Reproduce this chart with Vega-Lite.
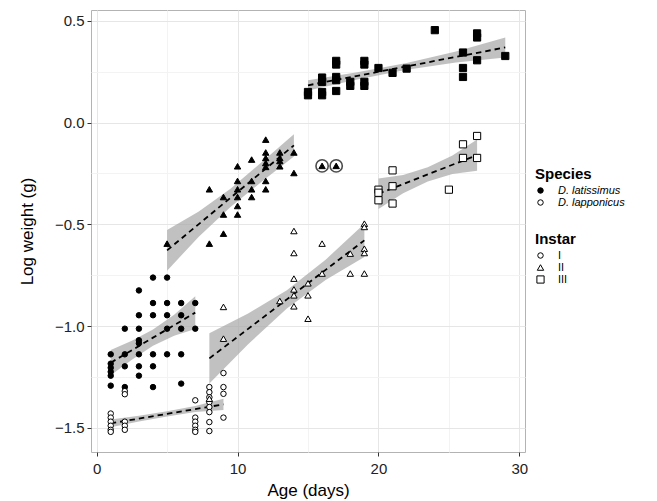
{
  "$schema": "https://vega.github.io/schema/vega-lite/v6.json",
  "width": 434,
  "height": 442,
  "autosize": {"type": "none"},
  "padding": {"left": 91, "top": 10, "right": 132, "bottom": 49},
  "config": {
    "font": "Liberation Sans",
    "view": {"stroke": "#b3b3b3", "strokeWidth": 1},
    "axis": {
      "domain": false,
      "tickColor": "#333333",
      "tickSize": 4,
      "labelColor": "#222222",
      "labelFontSize": 15,
      "titleFontSize": 17,
      "titleFontWeight": "normal",
      "titleColor": "#000000",
      "gridWidth": 1
    },
    "legend": {
      "padding": 0,
      "titleFontSize": 15,
      "titleFontWeight": "bold",
      "titleColor": "#000000",
      "titlePadding": 3,
      "labelFontSize": 11,
      "labelColor": "#000000",
      "labelOffset": 12,
      "rowPadding": 0,
      "symbolStrokeColor": "#000000",
      "symbolStrokeWidth": 1
    }
  },
  "datasets": {
    "pts": [
      {"age": 1, "lw": -1.139, "species": "D. latissimus", "instar": "I"},
      {"age": 1, "lw": -1.185, "species": "D. latissimus", "instar": "I"},
      {"age": 1, "lw": -1.205, "species": "D. latissimus", "instar": "I"},
      {"age": 1, "lw": -1.225, "species": "D. latissimus", "instar": "I"},
      {"age": 1, "lw": -1.244, "species": "D. latissimus", "instar": "I"},
      {"age": 1, "lw": -1.293, "species": "D. latissimus", "instar": "I"},
      {"age": 2, "lw": -1.013, "species": "D. latissimus", "instar": "I"},
      {"age": 2, "lw": -1.139, "species": "D. latissimus", "instar": "I"},
      {"age": 2, "lw": -1.198, "species": "D. latissimus", "instar": "I"},
      {"age": 2, "lw": -1.3, "species": "D. latissimus", "instar": "I"},
      {"age": 3, "lw": -0.825, "species": "D. latissimus", "instar": "I"},
      {"age": 3, "lw": -0.947, "species": "D. latissimus", "instar": "I"},
      {"age": 3, "lw": -1.013, "species": "D. latissimus", "instar": "I"},
      {"age": 3, "lw": -1.07, "species": "D. latissimus", "instar": "I"},
      {"age": 3, "lw": -1.085, "species": "D. latissimus", "instar": "I"},
      {"age": 3, "lw": -1.139, "species": "D. latissimus", "instar": "I"},
      {"age": 3, "lw": -1.198, "species": "D. latissimus", "instar": "I"},
      {"age": 3, "lw": -1.244, "species": "D. latissimus", "instar": "I"},
      {"age": 4, "lw": -0.762, "species": "D. latissimus", "instar": "I"},
      {"age": 4, "lw": -0.887, "species": "D. latissimus", "instar": "I"},
      {"age": 4, "lw": -0.947, "species": "D. latissimus", "instar": "I"},
      {"age": 4, "lw": -1.139, "species": "D. latissimus", "instar": "I"},
      {"age": 4, "lw": -1.198, "species": "D. latissimus", "instar": "I"},
      {"age": 4, "lw": -1.3, "species": "D. latissimus", "instar": "I"},
      {"age": 5, "lw": -0.762, "species": "D. latissimus", "instar": "I"},
      {"age": 5, "lw": -0.887, "species": "D. latissimus", "instar": "I"},
      {"age": 5, "lw": -0.947, "species": "D. latissimus", "instar": "I"},
      {"age": 5, "lw": -1.013, "species": "D. latissimus", "instar": "I"},
      {"age": 5, "lw": -1.139, "species": "D. latissimus", "instar": "I"},
      {"age": 6, "lw": -0.887, "species": "D. latissimus", "instar": "I"},
      {"age": 6, "lw": -0.947, "species": "D. latissimus", "instar": "I"},
      {"age": 6, "lw": -1.013, "species": "D. latissimus", "instar": "I"},
      {"age": 6, "lw": -1.139, "species": "D. latissimus", "instar": "I"},
      {"age": 6, "lw": -1.283, "species": "D. latissimus", "instar": "I"},
      {"age": 7, "lw": -0.887, "species": "D. latissimus", "instar": "I"},
      {"age": 7, "lw": -1.013, "species": "D. latissimus", "instar": "I"},
      {"age": 5, "lw": -0.595, "species": "D. latissimus", "instar": "II"},
      {"age": 8, "lw": -0.328, "species": "D. latissimus", "instar": "II"},
      {"age": 8, "lw": -0.595, "species": "D. latissimus", "instar": "II"},
      {"age": 9, "lw": -0.366, "species": "D. latissimus", "instar": "II"},
      {"age": 9, "lw": -0.452, "species": "D. latissimus", "instar": "II"},
      {"age": 9, "lw": -0.546, "species": "D. latissimus", "instar": "II"},
      {"age": 10, "lw": -0.215, "species": "D. latissimus", "instar": "II"},
      {"age": 10, "lw": -0.287, "species": "D. latissimus", "instar": "II"},
      {"age": 10, "lw": -0.328, "species": "D. latissimus", "instar": "II"},
      {"age": 10, "lw": -0.366, "species": "D. latissimus", "instar": "II"},
      {"age": 10, "lw": -0.41, "species": "D. latissimus", "instar": "II"},
      {"age": 10, "lw": -0.452, "species": "D. latissimus", "instar": "II"},
      {"age": 11, "lw": -0.182, "species": "D. latissimus", "instar": "II"},
      {"age": 11, "lw": -0.287, "species": "D. latissimus", "instar": "II"},
      {"age": 11, "lw": -0.328, "species": "D. latissimus", "instar": "II"},
      {"age": 11, "lw": -0.366, "species": "D. latissimus", "instar": "II"},
      {"age": 12, "lw": -0.084, "species": "D. latissimus", "instar": "II"},
      {"age": 12, "lw": -0.147, "species": "D. latissimus", "instar": "II"},
      {"age": 12, "lw": -0.174, "species": "D. latissimus", "instar": "II"},
      {"age": 12, "lw": -0.199, "species": "D. latissimus", "instar": "II"},
      {"age": 12, "lw": -0.218, "species": "D. latissimus", "instar": "II"},
      {"age": 12, "lw": -0.287, "species": "D. latissimus", "instar": "II"},
      {"age": 12, "lw": -0.328, "species": "D. latissimus", "instar": "II"},
      {"age": 13, "lw": -0.147, "species": "D. latissimus", "instar": "II"},
      {"age": 13, "lw": -0.174, "species": "D. latissimus", "instar": "II"},
      {"age": 13, "lw": -0.189, "species": "D. latissimus", "instar": "II"},
      {"age": 13, "lw": -0.215, "species": "D. latissimus", "instar": "II"},
      {"age": 14, "lw": -0.147, "species": "D. latissimus", "instar": "II"},
      {"age": 14, "lw": -0.248, "species": "D. latissimus", "instar": "II"},
      {"age": 16, "lw": -0.213, "species": "D. latissimus", "instar": "II", "ring": 1},
      {"age": 17, "lw": -0.213, "species": "D. latissimus", "instar": "II", "ring": 1},
      {"age": 15, "lw": 0.15, "species": "D. latissimus", "instar": "III"},
      {"age": 15, "lw": 0.134, "species": "D. latissimus", "instar": "III"},
      {"age": 16, "lw": 0.221, "species": "D. latissimus", "instar": "III"},
      {"age": 16, "lw": 0.2, "species": "D. latissimus", "instar": "III"},
      {"age": 16, "lw": 0.15, "species": "D. latissimus", "instar": "III"},
      {"age": 16, "lw": 0.134, "species": "D. latissimus", "instar": "III"},
      {"age": 17, "lw": 0.303, "species": "D. latissimus", "instar": "III"},
      {"age": 17, "lw": 0.285, "species": "D. latissimus", "instar": "III"},
      {"age": 17, "lw": 0.224, "species": "D. latissimus", "instar": "III"},
      {"age": 17, "lw": 0.208, "species": "D. latissimus", "instar": "III"},
      {"age": 17, "lw": 0.155, "species": "D. latissimus", "instar": "III"},
      {"age": 18, "lw": 0.2, "species": "D. latissimus", "instar": "III"},
      {"age": 18, "lw": 0.18, "species": "D. latissimus", "instar": "III"},
      {"age": 19, "lw": 0.303, "species": "D. latissimus", "instar": "III"},
      {"age": 19, "lw": 0.285, "species": "D. latissimus", "instar": "III"},
      {"age": 19, "lw": 0.2, "species": "D. latissimus", "instar": "III"},
      {"age": 19, "lw": 0.18, "species": "D. latissimus", "instar": "III"},
      {"age": 20, "lw": 0.268, "species": "D. latissimus", "instar": "III"},
      {"age": 21, "lw": 0.244, "species": "D. latissimus", "instar": "III"},
      {"age": 22, "lw": 0.265, "species": "D. latissimus", "instar": "III"},
      {"age": 24, "lw": 0.454, "species": "D. latissimus", "instar": "III"},
      {"age": 26, "lw": 0.344, "species": "D. latissimus", "instar": "III"},
      {"age": 26, "lw": 0.268, "species": "D. latissimus", "instar": "III"},
      {"age": 26, "lw": 0.224, "species": "D. latissimus", "instar": "III"},
      {"age": 27, "lw": 0.438, "species": "D. latissimus", "instar": "III"},
      {"age": 27, "lw": 0.418, "species": "D. latissimus", "instar": "III"},
      {"age": 27, "lw": 0.306, "species": "D. latissimus", "instar": "III"},
      {"age": 29, "lw": 0.327, "species": "D. latissimus", "instar": "III"},
      {"age": 1, "lw": -1.43, "species": "D. lapponicus", "instar": "I"},
      {"age": 1, "lw": -1.45, "species": "D. lapponicus", "instar": "I"},
      {"age": 1, "lw": -1.47, "species": "D. lapponicus", "instar": "I"},
      {"age": 1, "lw": -1.49, "species": "D. lapponicus", "instar": "I"},
      {"age": 1, "lw": -1.51, "species": "D. lapponicus", "instar": "I"},
      {"age": 1, "lw": -1.52, "species": "D. lapponicus", "instar": "I"},
      {"age": 2, "lw": -1.32, "species": "D. lapponicus", "instar": "I"},
      {"age": 2, "lw": -1.335, "species": "D. lapponicus", "instar": "I"},
      {"age": 2, "lw": -1.47, "species": "D. lapponicus", "instar": "I"},
      {"age": 2, "lw": -1.49, "species": "D. lapponicus", "instar": "I"},
      {"age": 2, "lw": -1.51, "species": "D. lapponicus", "instar": "I"},
      {"age": 7, "lw": -1.365, "species": "D. lapponicus", "instar": "I"},
      {"age": 7, "lw": -1.45, "species": "D. lapponicus", "instar": "I"},
      {"age": 7, "lw": -1.47, "species": "D. lapponicus", "instar": "I"},
      {"age": 7, "lw": -1.49, "species": "D. lapponicus", "instar": "I"},
      {"age": 7, "lw": -1.51, "species": "D. lapponicus", "instar": "I"},
      {"age": 7, "lw": -1.52, "species": "D. lapponicus", "instar": "I"},
      {"age": 8, "lw": -1.3, "species": "D. lapponicus", "instar": "I"},
      {"age": 8, "lw": -1.325, "species": "D. lapponicus", "instar": "I"},
      {"age": 8, "lw": -1.35, "species": "D. lapponicus", "instar": "I"},
      {"age": 8, "lw": -1.374, "species": "D. lapponicus", "instar": "I"},
      {"age": 8, "lw": -1.398, "species": "D. lapponicus", "instar": "I"},
      {"age": 8, "lw": -1.423, "species": "D. lapponicus", "instar": "I"},
      {"age": 8, "lw": -1.472, "species": "D. lapponicus", "instar": "I"},
      {"age": 8, "lw": -1.516, "species": "D. lapponicus", "instar": "I"},
      {"age": 9, "lw": -1.231, "species": "D. lapponicus", "instar": "I"},
      {"age": 9, "lw": -1.3, "species": "D. lapponicus", "instar": "I"},
      {"age": 9, "lw": -1.333, "species": "D. lapponicus", "instar": "I"},
      {"age": 9, "lw": -1.45, "species": "D. lapponicus", "instar": "I"},
      {"age": 8, "lw": -1.357, "species": "D. lapponicus", "instar": "II"},
      {"age": 9, "lw": -0.906, "species": "D. lapponicus", "instar": "II"},
      {"age": 9, "lw": -1.062, "species": "D. lapponicus", "instar": "II"},
      {"age": 13, "lw": -0.877, "species": "D. lapponicus", "instar": "II"},
      {"age": 14, "lw": -0.533, "species": "D. lapponicus", "instar": "II"},
      {"age": 14, "lw": -0.641, "species": "D. lapponicus", "instar": "II"},
      {"age": 14, "lw": -0.767, "species": "D. lapponicus", "instar": "II"},
      {"age": 14, "lw": -0.82, "species": "D. lapponicus", "instar": "II"},
      {"age": 14, "lw": -0.849, "species": "D. lapponicus", "instar": "II"},
      {"age": 14, "lw": -0.903, "species": "D. lapponicus", "instar": "II"},
      {"age": 15, "lw": -0.79, "species": "D. lapponicus", "instar": "II"},
      {"age": 15, "lw": -0.849, "species": "D. lapponicus", "instar": "II"},
      {"age": 15, "lw": -0.964, "species": "D. lapponicus", "instar": "II"},
      {"age": 16, "lw": -0.595, "species": "D. lapponicus", "instar": "II"},
      {"age": 16, "lw": -0.742, "species": "D. lapponicus", "instar": "II"},
      {"age": 18, "lw": -0.644, "species": "D. lapponicus", "instar": "II"},
      {"age": 18, "lw": -0.742, "species": "D. lapponicus", "instar": "II"},
      {"age": 19, "lw": -0.497, "species": "D. lapponicus", "instar": "II"},
      {"age": 19, "lw": -0.513, "species": "D. lapponicus", "instar": "II"},
      {"age": 19, "lw": -0.62, "species": "D. lapponicus", "instar": "II"},
      {"age": 19, "lw": -0.641, "species": "D. lapponicus", "instar": "II"},
      {"age": 19, "lw": -0.742, "species": "D. lapponicus", "instar": "II"},
      {"age": 20, "lw": -0.33, "species": "D. lapponicus", "instar": "III"},
      {"age": 20, "lw": -0.345, "species": "D. lapponicus", "instar": "III"},
      {"age": 20, "lw": -0.382, "species": "D. lapponicus", "instar": "III"},
      {"age": 21, "lw": -0.235, "species": "D. lapponicus", "instar": "III"},
      {"age": 21, "lw": -0.313, "species": "D. lapponicus", "instar": "III"},
      {"age": 21, "lw": -0.398, "species": "D. lapponicus", "instar": "III"},
      {"age": 25, "lw": -0.33, "species": "D. lapponicus", "instar": "III"},
      {"age": 26, "lw": -0.107, "species": "D. lapponicus", "instar": "III"},
      {"age": 26, "lw": -0.174, "species": "D. lapponicus", "instar": "III"},
      {"age": 27, "lw": -0.066, "species": "D. lapponicus", "instar": "III"},
      {"age": 27, "lw": -0.174, "species": "D. lapponicus", "instar": "III"}
    ],
    "fits": [
      {"grp": "lat-I", "age": 1, "fit": -1.18, "lo": -1.242, "hi": -1.118},
      {"grp": "lat-I", "age": 2.5, "fit": -1.119, "lo": -1.166, "hi": -1.072},
      {"grp": "lat-I", "age": 4, "fit": -1.057, "lo": -1.097, "hi": -1.017},
      {"grp": "lat-I", "age": 5.5, "fit": -0.996, "lo": -1.048, "hi": -0.944},
      {"grp": "lat-I", "age": 7, "fit": -0.934, "lo": -1.014, "hi": -0.854},
      {"grp": "lat-II", "age": 5, "fit": -0.628, "lo": -0.728, "hi": -0.528},
      {"grp": "lat-II", "age": 7.25, "fit": -0.499, "lo": -0.561, "hi": -0.437},
      {"grp": "lat-II", "age": 9.5, "fit": -0.37, "lo": -0.415, "hi": -0.325},
      {"grp": "lat-II", "age": 11.75, "fit": -0.241, "lo": -0.289, "hi": -0.193},
      {"grp": "lat-II", "age": 14, "fit": -0.112, "lo": -0.167, "hi": -0.057},
      {"grp": "lat-III", "age": 15, "fit": 0.183, "lo": 0.158, "hi": 0.208},
      {"grp": "lat-III", "age": 18.5, "fit": 0.2295, "lo": 0.2115, "hi": 0.2475},
      {"grp": "lat-III", "age": 22, "fit": 0.276, "lo": 0.259, "hi": 0.293},
      {"grp": "lat-III", "age": 25.5, "fit": 0.3225, "lo": 0.2955, "hi": 0.3495},
      {"grp": "lat-III", "age": 29, "fit": 0.369, "lo": 0.32, "hi": 0.418},
      {"grp": "lap-I", "age": 1, "fit": -1.478, "lo": -1.497, "hi": -1.459},
      {"grp": "lap-I", "age": 3, "fit": -1.455, "lo": -1.469, "hi": -1.441},
      {"grp": "lap-I", "age": 5, "fit": -1.4315, "lo": -1.4445, "hi": -1.4185},
      {"grp": "lap-I", "age": 7, "fit": -1.408, "lo": -1.423, "hi": -1.393},
      {"grp": "lap-I", "age": 9, "fit": -1.385, "lo": -1.413, "hi": -1.357},
      {"grp": "lap-II", "age": 8, "fit": -1.159, "lo": -1.283, "hi": -1.035},
      {"grp": "lap-II", "age": 10.75, "fit": -1.014, "lo": -1.089, "hi": -0.939},
      {"grp": "lap-II", "age": 13.5, "fit": -0.869, "lo": -0.914, "hi": -0.824},
      {"grp": "lap-II", "age": 16.25, "fit": -0.724, "lo": -0.774, "hi": -0.674},
      {"grp": "lap-II", "age": 19, "fit": -0.579, "lo": -0.661, "hi": -0.497},
      {"grp": "lap-III", "age": 20, "fit": -0.35, "lo": -0.425, "hi": -0.275},
      {"grp": "lap-III", "age": 21.75, "fit": -0.3025, "lo": -0.3475, "hi": -0.2575},
      {"grp": "lap-III", "age": 23.5, "fit": -0.255, "lo": -0.29, "hi": -0.22},
      {"grp": "lap-III", "age": 25.25, "fit": -0.2075, "lo": -0.2525, "hi": -0.1625},
      {"grp": "lap-III", "age": 27, "fit": -0.16, "lo": -0.237, "hi": -0.083}
    ]
  },
  "encoding": {
    "x": {
      "field": "age",
      "type": "quantitative",
      "scale": {"domain": [-0.4, 30.4], "nice": false, "zero": false},
      "axis": {
        "title": "Age (days)",
        "values": [0, 5, 10, 15, 20, 25, 30],
        "labelExpr": "datum.value % 10 === 0 ? datum.label : ''",
        "tickOpacity": {"condition": {"test": "datum.value % 10 === 0", "value": 1}, "value": 0},
        "gridColor": {"condition": {"test": "datum.value % 10 === 0", "value": "#e6e6e6"}, "value": "#f3f3f3"},
        "labelPadding": 5,
        "titlePadding": 6
      }
    }
  },
  "layer": [
    {
      "data": {"name": "fits"},
      "mark": {"type": "area", "color": "#a6a6a6", "opacity": 0.7},
      "encoding": {
        "y": {
          "field": "lo",
          "type": "quantitative",
          "scale": {"domain": [-1.619, 0.553], "nice": false, "zero": false},
          "axis": {
            "title": "Log weight (g)",
            "values": [-1.5, -1.25, -1, -0.75, -0.5, -0.25, 0, 0.25, 0.5],
            "format": ".1f",
            "labelExpr": "abs(datum.value * 2 - round(datum.value * 2)) < 0.01 ? replace(datum.label, '-', '−') : ''",
            "tickOpacity": {"condition": {"test": "abs(datum.value * 2 - round(datum.value * 2)) < 0.01", "value": 1}, "value": 0},
            "gridColor": {"condition": {"test": "abs(datum.value * 2 - round(datum.value * 2)) < 0.01", "value": "#e6e6e6"}, "value": "#f3f3f3"},
            "labelPadding": 3,
            "titlePadding": 18
          }
        },
        "y2": {"field": "hi"},
        "detail": {"field": "grp", "type": "nominal"}
      }
    },
    {
      "data": {"name": "fits"},
      "mark": {"type": "line", "color": "#000000", "strokeDash": [5.5, 4], "strokeWidth": 1.8},
      "encoding": {
        "y": {
          "field": "fit",
          "type": "quantitative",
          "scale": {"domain": [-1.619, 0.553], "nice": false, "zero": false},
          "axis": {
            "title": "Log weight (g)",
            "values": [-1.5, -1.25, -1, -0.75, -0.5, -0.25, 0, 0.25, 0.5],
            "format": ".1f",
            "labelExpr": "abs(datum.value * 2 - round(datum.value * 2)) < 0.01 ? replace(datum.label, '-', '−') : ''",
            "tickOpacity": {"condition": {"test": "abs(datum.value * 2 - round(datum.value * 2)) < 0.01", "value": 1}, "value": 0},
            "gridColor": {"condition": {"test": "abs(datum.value * 2 - round(datum.value * 2)) < 0.01", "value": "#e6e6e6"}, "value": "#f3f3f3"},
            "labelPadding": 3,
            "titlePadding": 18
          }
        },
        "detail": {"field": "grp", "type": "nominal"}
      }
    },
    {
      "data": {"name": "pts"},
      "transform": [{"filter": "datum.ring === 1"}],
      "mark": {"type": "point", "shape": "circle", "filled": true, "fill": "#ffffff", "stroke": "#000000", "strokeWidth": 1.6, "size": 150},
      "encoding": {
        "y": {
          "field": "lw",
          "type": "quantitative",
          "scale": {"domain": [-1.619, 0.553], "nice": false, "zero": false},
          "axis": {
            "title": "Log weight (g)",
            "values": [-1.5, -1.25, -1, -0.75, -0.5, -0.25, 0, 0.25, 0.5],
            "format": ".1f",
            "labelExpr": "abs(datum.value * 2 - round(datum.value * 2)) < 0.01 ? replace(datum.label, '-', '−') : ''",
            "tickOpacity": {"condition": {"test": "abs(datum.value * 2 - round(datum.value * 2)) < 0.01", "value": 1}, "value": 0},
            "gridColor": {"condition": {"test": "abs(datum.value * 2 - round(datum.value * 2)) < 0.01", "value": "#e6e6e6"}, "value": "#f3f3f3"},
            "labelPadding": 3,
            "titlePadding": 18
          }
        }
      }
    },
    {
      "data": {"name": "pts"},
      "mark": {"type": "point", "filled": true, "stroke": "#000000", "strokeWidth": 1, "opacity": 1},
      "encoding": {
        "y": {
          "field": "lw",
          "type": "quantitative",
          "scale": {"domain": [-1.619, 0.553], "nice": false, "zero": false},
          "axis": {
            "title": "Log weight (g)",
            "values": [-1.5, -1.25, -1, -0.75, -0.5, -0.25, 0, 0.25, 0.5],
            "format": ".1f",
            "labelExpr": "abs(datum.value * 2 - round(datum.value * 2)) < 0.01 ? replace(datum.label, '-', '−') : ''",
            "tickOpacity": {"condition": {"test": "abs(datum.value * 2 - round(datum.value * 2)) < 0.01", "value": 1}, "value": 0},
            "gridColor": {"condition": {"test": "abs(datum.value * 2 - round(datum.value * 2)) < 0.01", "value": "#e6e6e6"}, "value": "#f3f3f3"},
            "labelPadding": 3,
            "titlePadding": 18
          }
        },
        "size": {
          "field": "instar",
          "type": "nominal",
          "scale": {"domain": ["I", "II", "III"], "range": [30, 52, 24]},
          "legend": {
            "title": "Instar",
            "orient": "none",
            "legendX": 444,
            "legendY": 222,
            "symbolFillColor": "#ffffff"
          }
        },
        "fill": {
          "field": "species",
          "type": "nominal",
          "scale": {"domain": ["D. latissimus", "D. lapponicus"], "range": ["#000000", "#ffffff"]},
          "legend": {
            "title": "Species",
            "orient": "none",
            "legendX": 444,
            "legendY": 157,
            "labelFontStyle": "italic",
            "symbolType": "circle",
            "symbolSize": 30
          }
        },
        "shape": {
          "field": "instar",
          "type": "nominal",
          "scale": {"domain": ["I", "II", "III"], "range": ["circle", "triangle-up", "square"]},
          "legend": {
            "title": "Instar",
            "orient": "none",
            "legendX": 444,
            "legendY": 222,
            "symbolFillColor": "#ffffff"
          }
        }
      }
    }
  ]
}
